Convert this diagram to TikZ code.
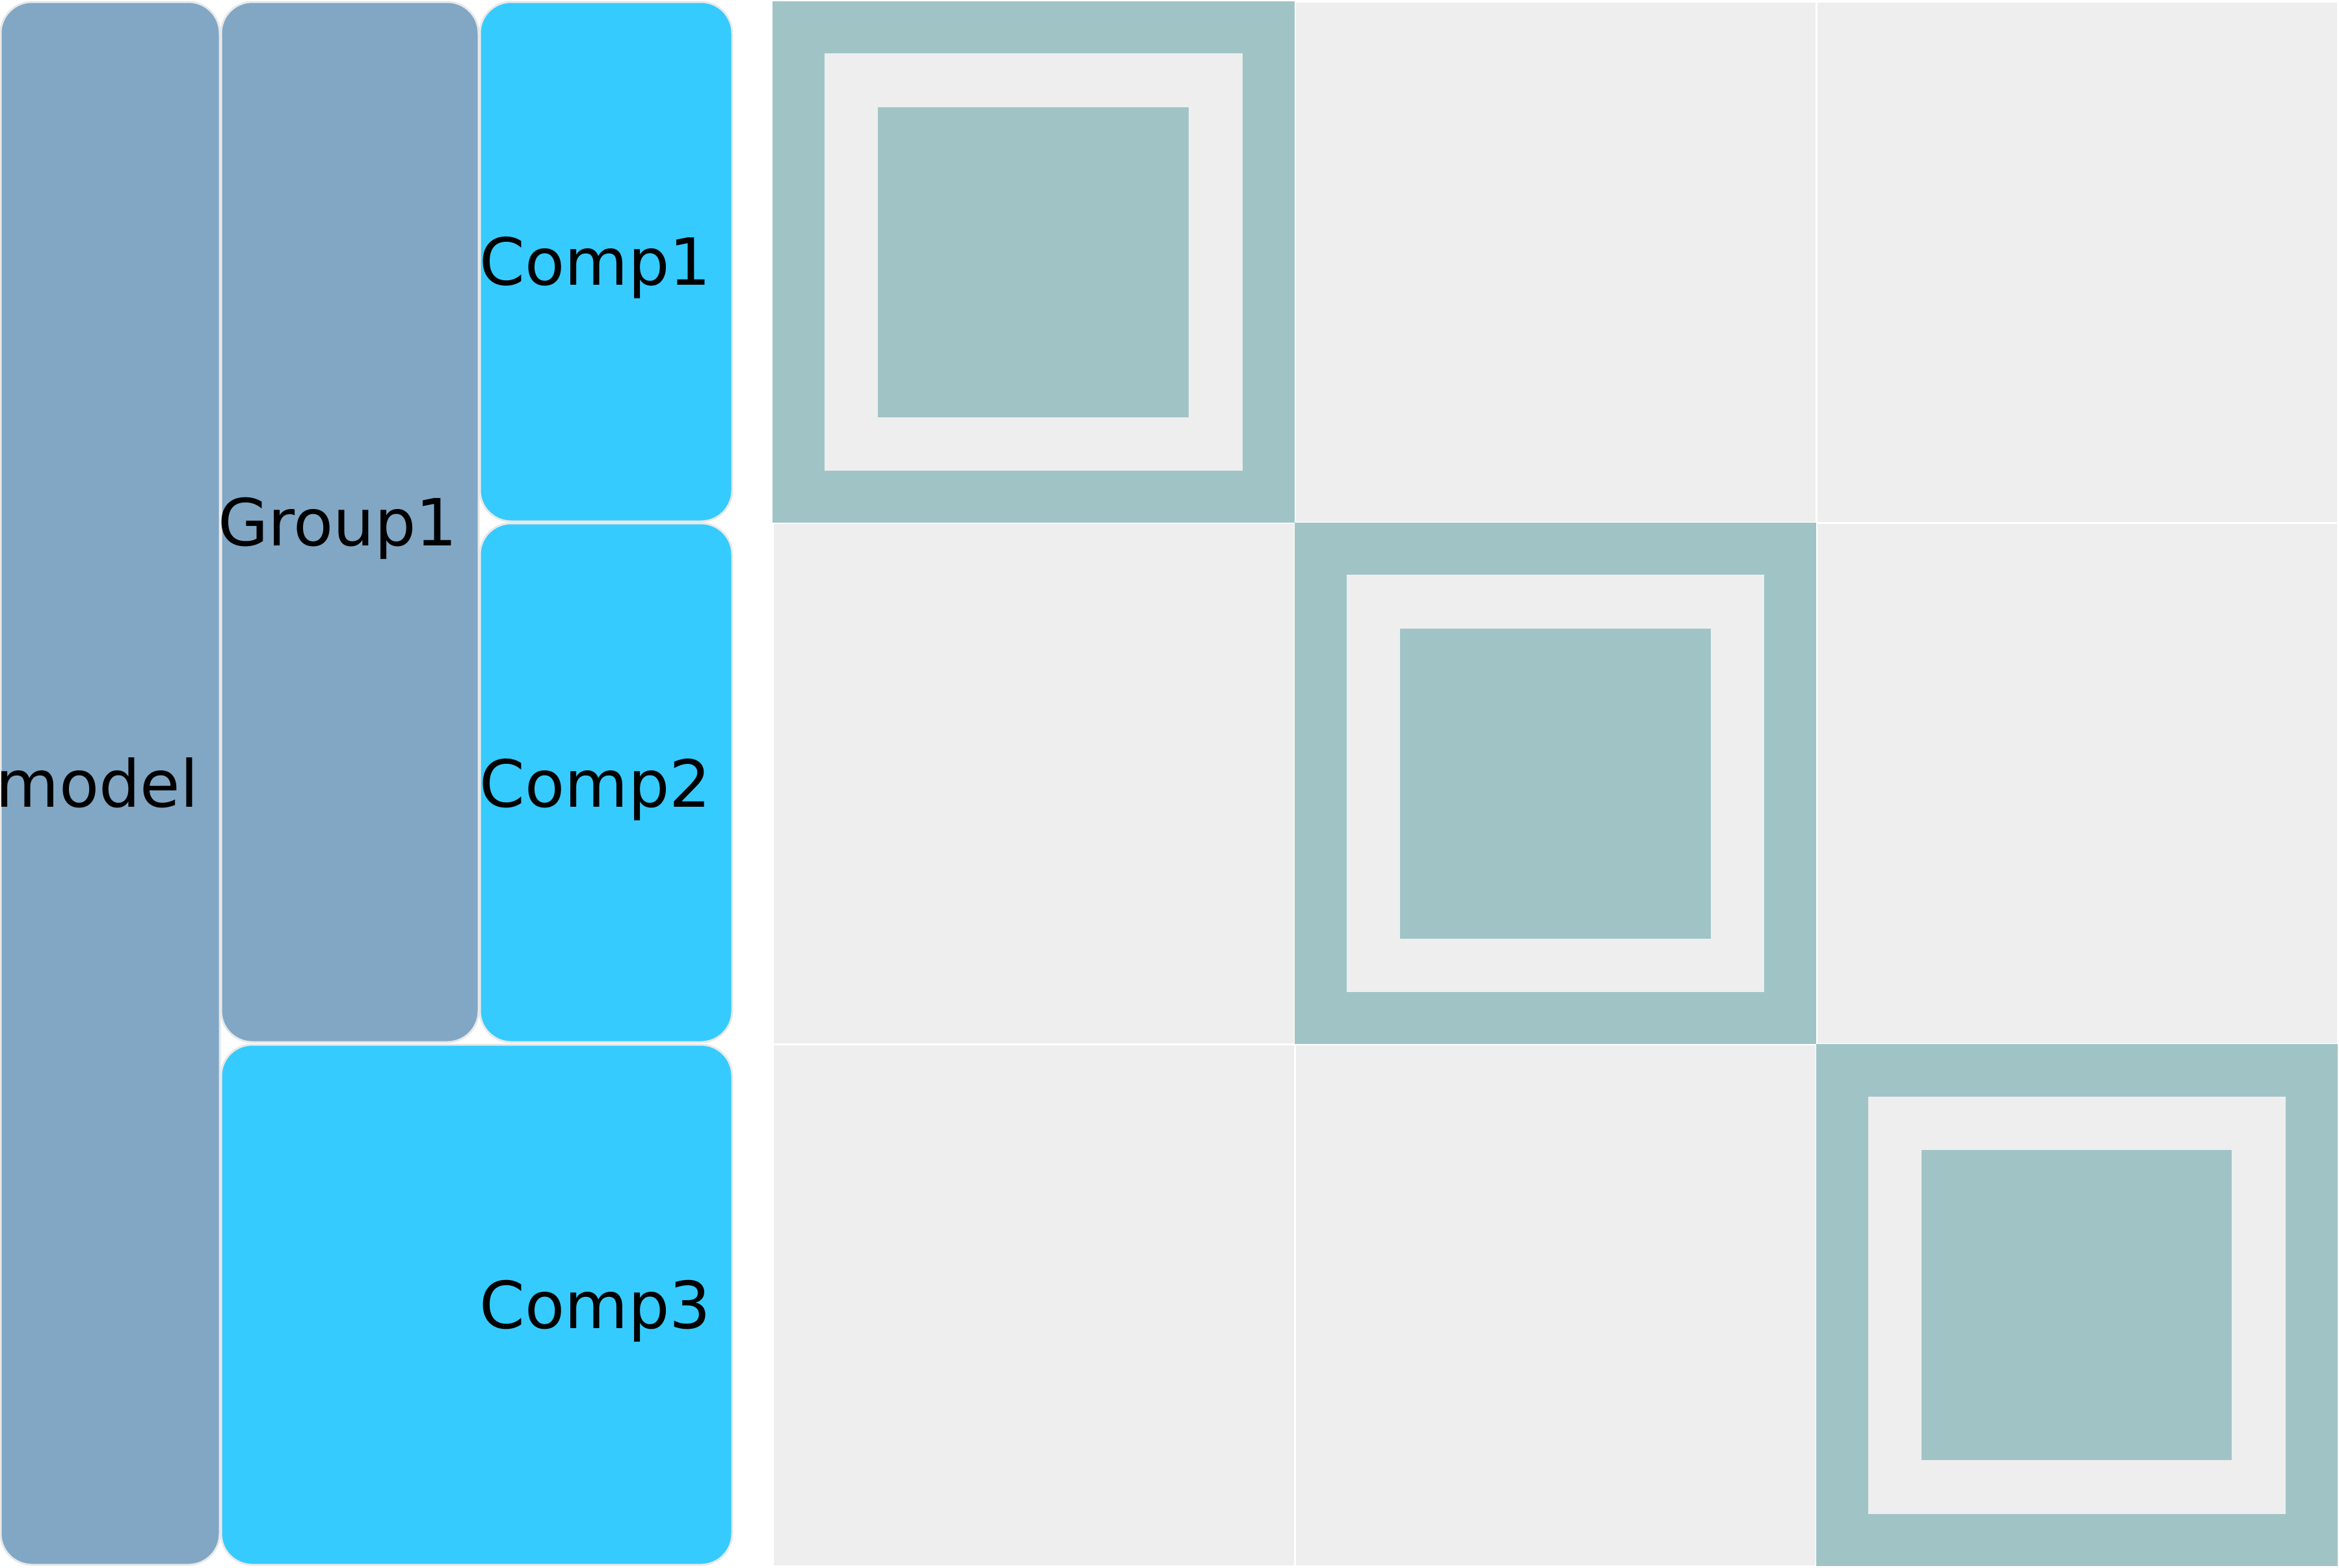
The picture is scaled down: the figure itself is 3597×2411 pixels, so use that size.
\documentclass[tikz,border=0pt]{standalone}
\usepackage{fontspec}
\setmainfont{DejaVu Sans}
\usetikzlibrary{positioning}

\definecolor{groupblue}{RGB}{129,167,197}
\definecolor{compblue}{RGB}{54,203,255}
\definecolor{boxline}{RGB}{232,232,232}
\definecolor{cellgray}{RGB}{238,238,238}
\definecolor{blockteal}{RGB}{160,196,198}

\begin{document}
\begin{tikzpicture}[x=0.01cm, y=-0.01cm,
    box/.style={draw=boxline, line width=0.03cm, rounded corners=0.48cm},
    lbl/.style={anchor=base east, inner sep=0pt, font=\fontsize{28.45}{34}\selectfont},
    cell/.style={draw=white, line width=0.03cm, fill=cellgray}]
    \useasboundingbox (0,0) rectangle (3597,2411);
    % Hierarchy boxes: model, Group1 and its components
        \draw[box, fill=groupblue] (1,3) rectangle (338,2407);
        \draw[box, fill=groupblue] (340,3) rectangle (736,1603);
        \draw[box, fill=compblue] (738,3) rectangle (1126,802);
        \draw[box, fill=compblue] (738,805) rectangle (1126,1603);
        \draw[box, fill=compblue] (340,1607) rectangle (1126,2407);
        \node[lbl] (model) at (306,1241) {model};
        \node[lbl] (group1) at (704,839) {Group1};
        \node[lbl] (comp1) at (1094,438) {Comp1};
        \node[lbl] (comp2) at (1094,1241) {Comp2};
        \node[lbl] (comp3) at (1094,2043) {Comp3};
        % Matrix cells
        \draw[cell] (1188,2) rectangle (1991,804);
        \draw[cell] (1991,2) rectangle (2793,804);
        \draw[cell] (2793,2) rectangle (3595,804);
        \draw[cell] (1188,804) rectangle (1991,1606);
        \draw[cell] (1991,804) rectangle (2793,1606);
        \draw[cell] (2793,804) rectangle (3595,1606);
        \draw[cell] (1188,1606) rectangle (1991,2409);
        \draw[cell] (1991,1606) rectangle (2793,2409);
        \draw[cell] (2793,1606) rectangle (3595,2409);
        % Diagonal blocks
        \fill[blockteal] (1188,2) rectangle (1991,804);
        \fill[cellgray] (1268,82) rectangle (1911,724);
        \fill[blockteal] (1350,165) rectangle (1828,642);
        \fill[blockteal] (1991,804) rectangle (2793,1606);
        \fill[cellgray] (2071,884) rectangle (2713,1526);
        \fill[blockteal] (2153,967) rectangle (2631,1444);
        \fill[blockteal] (2793,1606) rectangle (3595,2409);
        \fill[cellgray] (2873,1687) rectangle (3515,2329);
        \fill[blockteal] (2955,1769) rectangle (3432,2246);
\end{tikzpicture}
\end{document}
